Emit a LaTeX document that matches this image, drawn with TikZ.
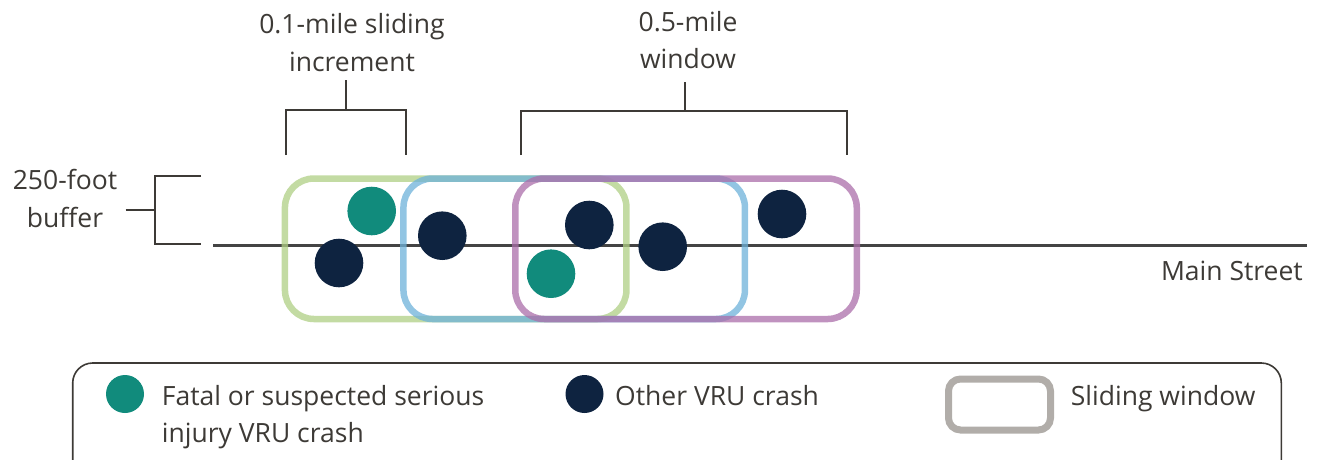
\documentclass[tikz,border=0pt]{standalone}
\usepackage{fontspec}
\setmainfont{Open Sans}
\definecolor{txtgray}{HTML}{3D3A36}
\definecolor{linegray}{HTML}{444444}
\definecolor{crashteal}{HTML}{118B7C}
\definecolor{crashnavy}{HTML}{0E2340}
\definecolor{wingreen}{RGB}{175,207,132}
\definecolor{winblue}{RGB}{110,178,218}
\definecolor{winpurple}{RGB}{171,110,170}
\definecolor{keygray}{HTML}{B1ADA9}
\begin{document}
\begin{tikzpicture}[x=1pt,y=-1pt,
  lbl/.style={font=\fontsize{26.5}{36}\selectfont, text=txtgray, inner sep=0pt, anchor=base},
  crash/.style={circle, inner sep=0pt, minimum size=48.6pt},
  fsi/.style={crash, fill=crashteal},
  other/.style={crash, fill=crashnavy},
  win/.style={rectangle, rounded corners=29pt, line width=6.5pt, draw opacity=0.75,
    minimum width=341.5pt, minimum height=140.5pt, inner sep=0pt},
  brk/.style={draw=txtgray, line width=2pt}]
\useasboundingbox (0,0) rectangle (1318,459);

% Main street
\coordinate (ms1) at (213,245.5);
\coordinate (ms2) at (1307,245.5);
\draw[line width=2.2pt, draw=linegray] (ms1) -- (ms2);
\node[lbl, anchor=base east] (mstxt) at (1303,280) {Main Street};

% Sliding windows
\node[win, draw=wingreen] (w1) at (455.7,248.75) {};
\node[win, draw=winblue] (w2) at (574.2,248.75) {};
\node[win, draw=winpurple] (w3) at (686,248.75) {};

% Crashes
\node[fsi] (c1) at (371.7,211) {};
\node[other] (c2) at (339,263) {};
\node[other] (c3) at (442.3,235.7) {};
\node[other] (c4) at (589.3,225) {};
\node[fsi] (c5) at (551,273.7) {};
\node[other] (c6) at (662.7,246.7) {};
\node[other] (c7) at (782,214) {};

% 250-foot buffer bracket
\coordinate (b1) at (201,176);
\coordinate (b2) at (155,176);
\coordinate (b3) at (155,244);
\coordinate (b4) at (201,244);
\coordinate (bm1) at (125.7,210);
\coordinate (bm2) at (155,210);
\draw[brk] (b1) -- (b2) -- (b3) -- (b4);
\draw[brk] (bm1) -- (bm2);
\node[lbl] (buf1) at (65,189) {250-foot};
\node[lbl] (buf2) at (65,227) {buffer};

% 0.1-mile bracket
\coordinate (i1) at (285.7,155);
\coordinate (i2) at (285.7,110);
\coordinate (i3) at (405.7,110);
\coordinate (i4) at (405.7,155);
\coordinate (im1) at (345.7,110);
\coordinate (im2) at (345.7,80);
\draw[brk] (i1) -- (i2) -- (i3) -- (i4);
\draw[brk] (im1) -- (im2);
\node[lbl] (inc1) at (352,33.3) {0.1-mile sliding};
\node[lbl] (inc2) at (352,71) {increment};

% 0.5-mile bracket
\coordinate (o1) at (521,155);
\coordinate (o2) at (521,111);
\coordinate (o3) at (846.7,111);
\coordinate (o4) at (846.7,155);
\coordinate (om1) at (685,111);
\coordinate (om2) at (685,82);
\draw[brk] (o1) -- (o2) -- (o3) -- (o4);
\draw[brk] (om1) -- (om2);
\node[lbl] (win1) at (688,31) {0.5-mile};
\node[lbl] (win2) at (688,68.5) {window};

% Legend
\node[draw=txtgray, line width=1.6pt, rounded corners=20pt, minimum width=1208.6pt,
  minimum height=117pt, inner sep=0pt] (legend) at (677,421.5) {};
\node[fsi, minimum size=38pt] (k1) at (125,394) {};
\node[lbl, anchor=base west] (k1a) at (161.7,405) {Fatal or suspected serious};
\node[lbl, anchor=base west] (k1b) at (161.7,442) {injury VRU crash};
\node[other, minimum size=38pt] (k2) at (584.5,394) {};
\node[lbl, anchor=base west] (k2a) at (615,405) {Other VRU crash};
\node[rectangle, rounded corners=12pt, draw=keygray, line width=7pt,
  minimum width=102pt, minimum height=51pt, inner sep=0pt] (k3) at (999.5,404.5) {};
\node[lbl, anchor=base west] (k3a) at (1070.7,405) {Sliding window};
\end{tikzpicture}
\end{document}
